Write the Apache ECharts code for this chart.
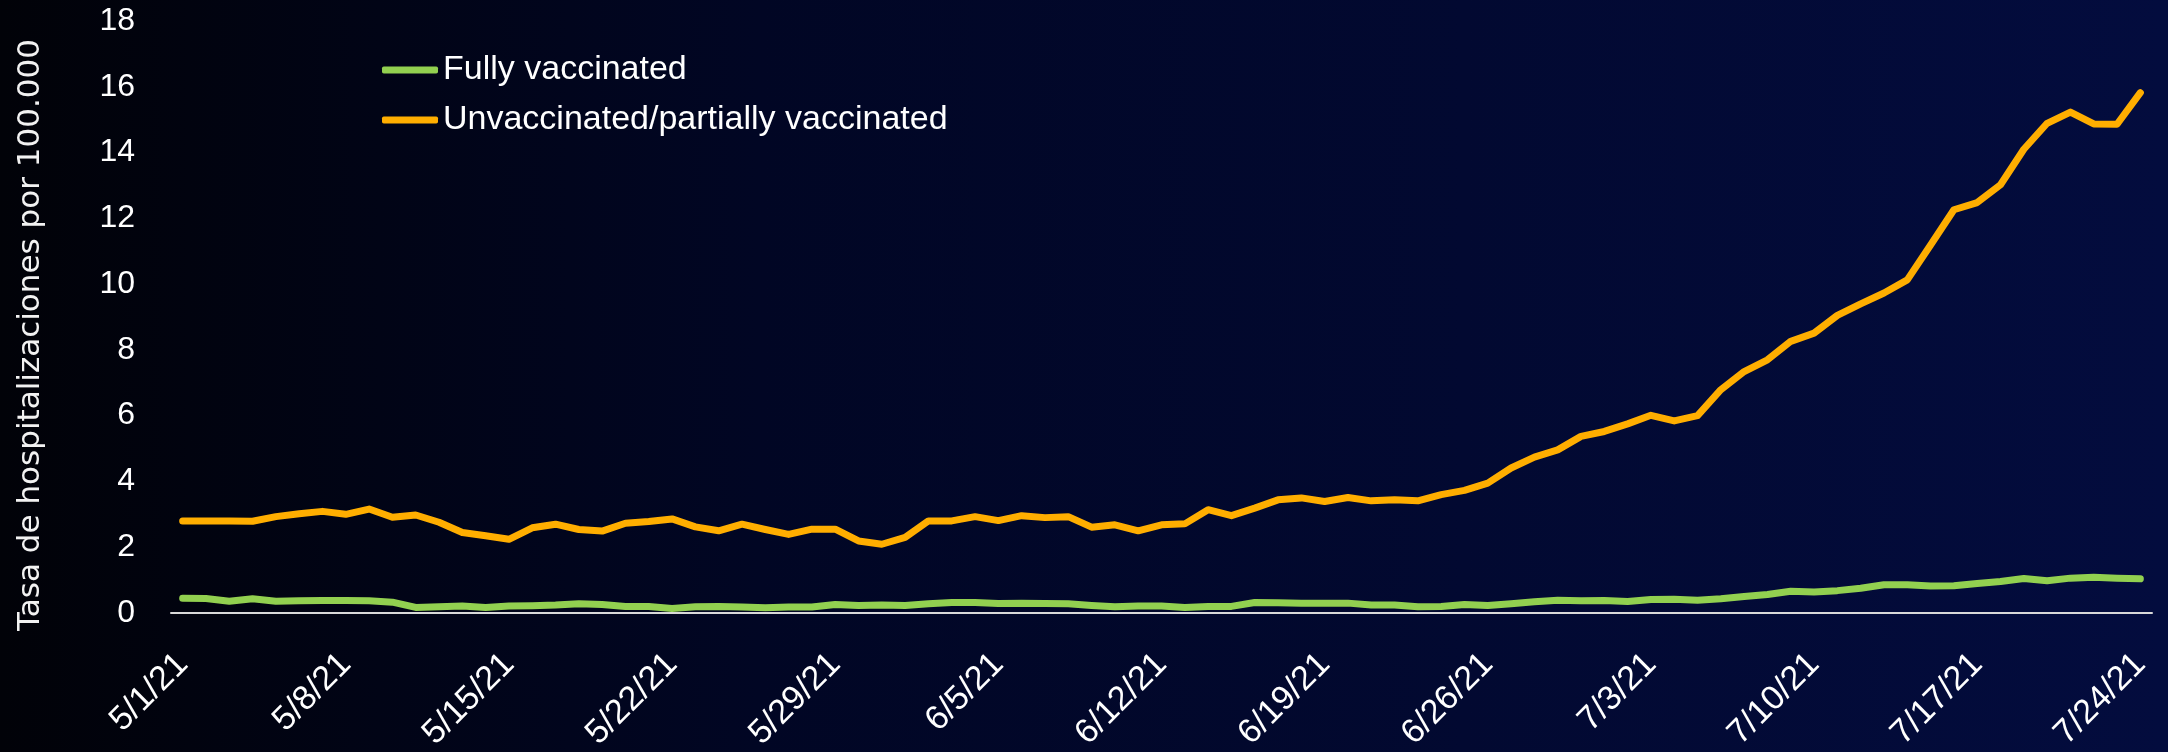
<!DOCTYPE html>
<html>
<head>
<meta charset="utf-8">
<title>Tasa de hospitalizaciones</title>
<script src="https://cdn.jsdelivr.net/npm/echarts@6/dist/echarts.min.js"></script>
<style>
  html, body { margin: 0; padding: 0; background: #01030f; }
  #chart { width: 2168px; height: 752px; }
</style>
</head>
<body>
<div id="chart"></div>
<script>
// categorias: un dia por punto, 5/1/21 .. 7/24/21
var days = [];
for (var d = new Date(2021, 4, 1); d <= new Date(2021, 6, 24); d.setDate(d.getDate() + 1)) {
  days.push((d.getMonth() + 1) + "/" + d.getDate() + "/21");
}

var yTicks = { min: 0, max: 18, interval: 2 };

// Fully vaccinated
var fullyVaccinated = [
  0.45, 0.44, 0.36, 0.43, 0.36, 0.37, 0.38, 0.38, 0.37, 0.33,
  0.17, 0.19, 0.21, 0.17, 0.21, 0.22, 0.24, 0.28, 0.26, 0.20,
  0.20, 0.14, 0.19, 0.20, 0.18, 0.16, 0.18, 0.18, 0.26, 0.23,
  0.24, 0.23, 0.28, 0.32, 0.32, 0.29, 0.30, 0.29, 0.28, 0.23,
  0.19, 0.21, 0.21, 0.17, 0.20, 0.20, 0.32, 0.31, 0.30, 0.30,
  0.30, 0.24, 0.24, 0.19, 0.20, 0.26, 0.23, 0.28, 0.34, 0.39,
  0.37, 0.38, 0.35, 0.41, 0.42, 0.39, 0.43, 0.50, 0.56, 0.66,
  0.64, 0.68, 0.75, 0.86, 0.86, 0.82, 0.83, 0.90, 0.96, 1.05,
  0.98, 1.06, 1.09, 1.06, 1.04
];

// Unvaccinated/partially vaccinated
var unvaccinated = [
  2.80, 2.80, 2.80, 2.79, 2.93, 3.02, 3.09, 3.00, 3.16, 2.91,
  2.98, 2.76, 2.45, 2.35, 2.24, 2.59, 2.70, 2.54, 2.49, 2.73,
  2.78, 2.86, 2.62, 2.50, 2.70, 2.54, 2.39, 2.55, 2.55, 2.19,
  2.09, 2.30, 2.80, 2.80, 2.93, 2.81, 2.96, 2.90, 2.93, 2.61,
  2.68, 2.50, 2.68, 2.71, 3.14, 2.96, 3.19, 3.44, 3.50, 3.39,
  3.51, 3.41, 3.44, 3.41, 3.60, 3.73, 3.95, 4.41, 4.74, 4.96,
  5.37, 5.52, 5.75, 6.01, 5.84, 6.00, 6.79, 7.34, 7.70, 8.26,
  8.51, 9.05, 9.40, 9.73, 10.13, 11.19, 12.26, 12.48, 13.02, 14.10,
  14.89, 15.23, 14.87, 14.86, 15.82
];

var font = "'Liberation Sans', Arial, sans-serif";

var chart = echarts.init(document.getElementById("chart"));
chart.setOption({
  backgroundColor: new echarts.graphic.LinearGradient(0, 0, 1, 0, [
    { offset: 0, color: "#010208" },
    { offset: 0.35, color: "#010624" },
    { offset: 1, color: "#030c3e" },
  ]),
  animation: false,
  grid: {
    left: 171,
    right: 16,
    top: 21,
    bottom: 139,
    containLabel: false,
    outerBoundsMode: "none",
  },
  legend: {
    orient: "vertical",
    left: 377,
    top: 48,
    itemGap: 16,
    itemWidth: 56,
    itemHeight: 7,
    icon: "roundRect",
    textStyle: {
      color: "#ffffff",
      fontSize: 34,
      fontFamily: font,
      lineHeight: 34,
    },
  },
  // titulo del eje Y
  graphic: [
    {
      type: "text",
      x: 31,
      y: 335,
      rotation: Math.PI / 2,
      style: {
        text: "Tasa de hospitalizaciones por 100.000",
        fill: "#f2f2f2",
        font: "31px 'DejaVu Sans', Verdana, sans-serif",
        textAlign: "center",
        textVerticalAlign: "middle",
      },
    },
  ],
  xAxis: {
    type: "category",
    boundaryGap: true,
    data: days,
    axisLine: {
      lineStyle: { color: "#d9d9d9", width: 2 },
    },
    axisTick: { show: false },
    axisLabel: {
      interval: 6,
      rotate: 45,
      margin: 46,
      color: "#ffffff",
      fontSize: 34,
      fontFamily: font,
    },
  },
  yAxis: {
    type: "value",
    min: yTicks.min,
    max: yTicks.max,
    interval: yTicks.interval,
    splitLine: { show: false },
    axisLine: { show: false },
    axisTick: { show: false },
    axisLabel: {
      margin: 36,
      color: "#ffffff",
      fontSize: 32,
      fontFamily: font,
    },
  },
  series: [
    {
      name: "Fully vaccinated",
      type: "line",
      data: fullyVaccinated,
      showSymbol: false,
      color: "#92d050",
      lineStyle: { width: 7, cap: "round", join: "round" },
    },
    {
      name: "Unvaccinated/partially vaccinated",
      type: "line",
      data: unvaccinated,
      showSymbol: false,
      color: "#ffae00",
      lineStyle: { width: 7, cap: "round", join: "round" },
    },
  ],
});
</script>
</body>
</html>
